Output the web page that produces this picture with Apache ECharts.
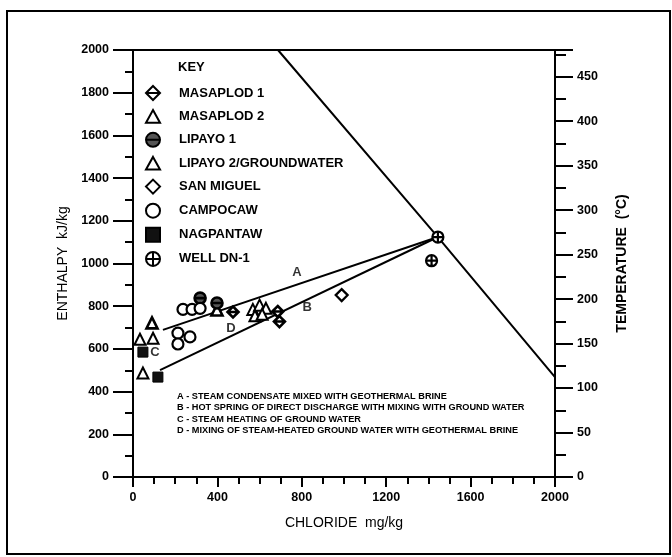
<!DOCTYPE html>
<html>
<head>
<meta charset="utf-8">
<script src="https://cdn.jsdelivr.net/npm/echarts@6/dist/echarts.min.js"></script>
<style>html,body{margin:0;padding:0;background:#fff;}#c{width:672px;height:557px;}</style>
</head>
<body>
<div id="c"></div>
<script>
// ---- data (chloride mg/kg, enthalpy kJ/kg) ----
const seriesNames = ['MASAPLOD 1','MASAPLOD 2','LIPAYO 1','LIPAYO 2/GROUNDWATER','SAN MIGUEL','CAMPOCAW','NAGPANTAW','WELL DN-1'];
const masaplod1 = [[474,773],[686,775],[694,728]];
const masaplod2 = [[90,722],[398,782]];
const lipayo1 = [[318,838],[398,815]];
const lipayo2 = [[33,645],[95,650],[47,487],[568,785],[600,805],[630,790],[578,755],[612,762]];
const sanMiguel = [[989,852]];
const campocaw = [[237,785],[280,785],[318,790],[213,674],[213,623],[270,656]];
const nagpantaw = [[47,585],[118,468]];
const wellDN1 = [[1445,1124],[1415,1013]];
// boundary / mixing lines
const maxEnthalpyLine = [[687,2000],[1445,1124],[2000,468]];
const lineA = [[142,689],[1445,1124]];
const lineB = [[128,501],[1445,1124]];
// line letters
const letters = [['A',777,960],['B',825,792],['C',104,585],['D',464,698]];
const notes = [
  'A - STEAM CONDENSATE MIXED WITH GEOTHERMAL BRINE',
  'B - HOT SPRING OF DIRECT DISCHARGE WITH MIXING WITH GROUND WATER',
  'C - STEAM HEATING OF GROUND WATER',
  'D - MIXING OF STEAM-HEATED GROUND WATER WITH GEOTHERMAL BRINE'
];
const xTicks = [0,400,800,1200,1600,2000];
const yTicks = [0,200,400,600,800,1000,1200,1400,1600,1800,2000];
const tTicks = [0,50,100,150,200,250,300,350,400,450];

const FONT = 'Liberation Sans, Arial, sans-serif';
const circleP = 'M-10,0A10,10,0,1,1,10,0A10,10,0,1,1,-10,0Z';
const sym = {
  'MASAPLOD 1': 'path://M0,-10L10,0L0,10L-10,0Z M-10,0L10,0',
  'MASAPLOD 2': 'path://M0,-10L10,8L-10,8Z',
  'LIPAYO 1': 'path://' + circleP + ' M-10,0L10,0',
  'LIPAYO 2/GROUNDWATER': 'path://M0,-10L10,8L-10,8Z',
  'SAN MIGUEL': 'path://M0,-10L10,0L0,10L-10,0Z',
  'CAMPOCAW': 'path://' + circleP,
  'NAGPANTAW': 'path://M-10,-10L10,-10L10,10L-10,10Z',
  'WELL DN-1': 'path://' + circleP + ' M-10,0L10,0 M0,-10L0,10'
};
const dataMap = {
  'MASAPLOD 1': masaplod1, 'MASAPLOD 2': masaplod2, 'LIPAYO 1': lipayo1,
  'LIPAYO 2/GROUNDWATER': lipayo2, 'SAN MIGUEL': sanMiguel, 'CAMPOCAW': campocaw,
  'NAGPANTAW': nagpantaw, 'WELL DN-1': wellDN1
};
const style = {
  'MASAPLOD 1': {fill:'#fff', bw:2.6, size:11},
  'MASAPLOD 2': {fill:'#fff', bw:2.6, size:11},
  'LIPAYO 1': {fill:'#555', bw:2.6, size:11},
  'LIPAYO 2/GROUNDWATER': {fill:'#fff', bw:2, size:11},
  'SAN MIGUEL': {fill:'#fff', bw:2.2, size:12},
  'CAMPOCAW': {fill:'#fff', bw:2.2, size:11},
  'NAGPANTAW': {fill:'#111', bw:1, size:10},
  'WELL DN-1': {fill:'#fff', bw:2.2, size:11}
};

const series = seriesNames.map(n => ({
  name: n, type: 'scatter', data: dataMap[n], symbol: sym[n], symbolSize: style[n].size,
  itemStyle: {color: style[n].fill, borderColor: '#000', borderWidth: style[n].bw, opacity: 1},
  emphasis: {disabled: true}, z: 5
}));
const lineStyleBase = {color:'#000', width:2};
[maxEnthalpyLine, lineA, lineB].forEach((d, i) => series.push({
  name: 'line' + i, type: 'line', data: d, symbol: 'none', silent: true,
  lineStyle: lineStyleBase, z: 3, clip: true
}));
series.push({
  name: 'letters', type: 'scatter', symbolSize: 0, silent: true,
  data: letters.map(l => ({value: [l[1], l[2]], name: l[0]})),
  label: {show: true, formatter: p => p.name, position: 'inside', fontFamily: FONT, fontWeight: 'bold', fontSize: 13, color: '#000'}
});

const chart = echarts.init(document.getElementById('c'), null, {renderer: 'canvas'});
const tickFont = {fontFamily: FONT, fontWeight: 'bold', fontSize: 12.5, color: '#000'};
chart.setOption({
  animation: false,
  backgroundColor: '#fff',
  grid: {left: 133, right: 117, top: 50, bottom: 80, show: true, borderColor: '#000', borderWidth: 2, backgroundColor: 'transparent'},
  legend: {
    data: seriesNames, orient: 'vertical', left: 145, top: 85, padding: 0, itemWidth: 14, itemHeight: 14, itemGap: 8.1,
    selectedMode: false,
    textStyle: {fontFamily: FONT, fontWeight: 'bold', fontSize: 13, color: '#000', padding: [0,0,0,14]}
  },
  xAxis: {
    type: 'value', min: xTicks[0], max: xTicks[xTicks.length-1], interval: 400,
    name: 'CHLORIDE  mg/kg', nameLocation: 'middle', nameGap: 39,
    nameTextStyle: {fontFamily: FONT, fontSize: 14, color: '#000'},
    axisLine: {show: true, lineStyle: {color: '#000', width: 2}},
    axisTick: {show: true, length: 10, lineStyle: {color: '#000', width: 2}},
    minorTick: {show: true, splitNumber: 4, length: 7, lineStyle: {color: '#000', width: 2}},
    axisLabel: Object.assign({margin: 14, formatter: v => String(v)}, tickFont),
    splitLine: {show: false}
  },
  yAxis: [{
    type: 'value', min: yTicks[0], max: yTicks[yTicks.length-1], interval: 200,
    name: 'ENTHALPY  kJ/kg', nameLocation: 'middle', nameGap: 60, nameRotate: 90,
    nameTextStyle: {fontFamily: FONT, fontSize: 14, color: '#000'},
    axisLine: {show: true, lineStyle: {color: '#000', width: 2}},
    axisTick: {show: true, length: 20, lineStyle: {color: '#000', width: 2}},
    minorTick: {show: true, splitNumber: 2, length: 8, lineStyle: {color: '#000', width: 2}},
    axisLabel: Object.assign({margin: 24, formatter: v => String(v)}, tickFont),
    splitLine: {show: false}
  }, {
    type: 'value', position: 'right', min: 0, max: 480, interval: 50,
    name: 'TEMPERATURE  (°C)', nameLocation: 'middle', nameGap: 60, nameRotate: 90,
    nameTextStyle: {fontFamily: FONT, fontSize: 14, fontWeight: 'bold', color: '#000'},
    axisLine: {show: true, lineStyle: {color: '#000', width: 2}},
    axisTick: {show: true, length: 18, lineStyle: {color: '#000', width: 2}},
    minorTick: {show: true, splitNumber: 2, length: 11, lineStyle: {color: '#000', width: 2}},
    axisLabel: Object.assign({margin: 22, showMaxLabel: false, formatter: v => (tTicks.indexOf(v) >= 0 ? String(v) : '')}, tickFont),
    splitLine: {show: false}
  }],
  graphic: [
    {type: 'rect', shape: {x: 7, y: 11, width: 663, height: 543}, style: {fill: 'none', stroke: '#000', lineWidth: 2}, silent: true, z: 0},
    {type: 'text', left: 178, top: 61, style: {text: 'KEY', font: 'bold 13px ' + FONT, fill: '#000'}, silent: true}
  ].concat(notes.map((t, i) => ({
    type: 'text', left: 177, top: 392 + i * 11.3,
    style: {text: t, font: 'bold 9.2px ' + FONT, fill: '#000'}, silent: true
  }))),
  series: series
});
</script>
</body>
</html>
